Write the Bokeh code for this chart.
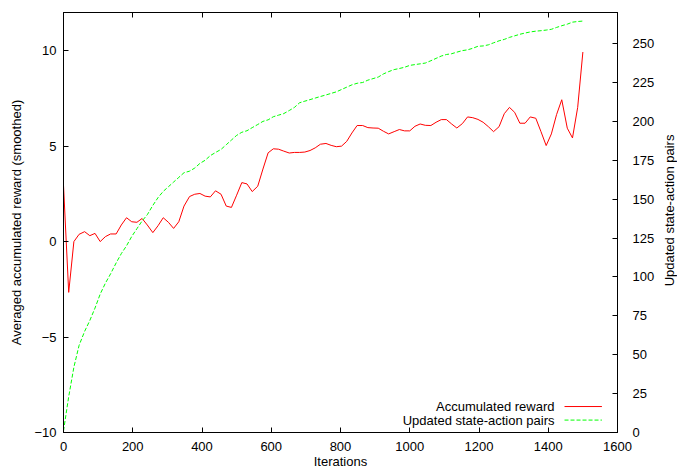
import math
from bokeh.plotting import figure
from bokeh.layouts import row
from bokeh.models import Range1d, LinearAxis, FixedTicker, Label, Arrow
from bokeh.embed import file_html
from bokeh.resources import INLINE

# ---------------- data ----------------
iterations = [
    0, 15, 30, 45, 61, 76, 91, 106, 121, 136,
    152, 167, 182, 197, 212, 227, 242, 258, 273, 288,
    303, 318, 333, 348, 364, 379, 394, 409, 424, 439,
    455, 470, 485, 500, 515, 530, 545, 561, 576, 591,
    606, 621, 636, 652, 667, 682, 697, 712, 727, 742,
    758, 773, 788, 803, 818, 833, 848, 864, 879, 894,
    909, 924, 939, 955, 970, 985, 1000, 1015, 1030, 1045,
    1061, 1076, 1091, 1106, 1121, 1136, 1152, 1167, 1182, 1197,
    1212, 1227, 1242, 1258, 1273, 1288, 1303, 1318, 1333, 1348,
    1364, 1379, 1394, 1409, 1424, 1439, 1455, 1470, 1485, 1500,
]

accumulated_reward = [
    2.95, -2.66, 0.00, 0.38, 0.52, 0.31, 0.43, 0.00, 0.26, 0.40,
    0.40, 0.87, 1.25, 1.04, 1.01, 1.21, 0.87, 0.47, 0.83, 1.25,
    1.01, 0.69, 1.04, 1.86, 2.36, 2.48, 2.52, 2.38, 2.34, 2.66,
    2.48, 1.86, 1.79, 2.43, 3.09, 3.02, 2.62, 2.90, 3.80, 4.65,
    4.86, 4.84, 4.74, 4.64, 4.67, 4.67, 4.69, 4.77, 4.91, 5.10,
    5.14, 5.04, 4.97, 5.00, 5.25, 5.69, 6.08, 6.08, 5.97, 5.95,
    5.94, 5.78, 5.64, 5.76, 5.87, 5.80, 5.80, 6.04, 6.16, 6.09,
    6.08, 6.25, 6.39, 6.39, 6.16, 5.95, 6.18, 6.53, 6.49, 6.40,
    6.25, 6.02, 5.76, 6.02, 6.70, 7.03, 6.77, 6.20, 6.20, 6.53,
    6.46, 5.76, 5.03, 5.64, 6.65, 7.43, 5.94, 5.43, 7.03, 9.93,
]

updated_pairs = [
    1, 23, 42, 56, 65, 72, 80, 89, 96, 102,
    109, 115, 120, 126, 131, 136, 140, 146, 151, 155,
    158, 161, 164, 167, 168, 170, 173, 175, 178, 180,
    182, 185, 188, 191, 193, 194, 196, 198, 200, 201,
    203, 204, 205, 207, 209, 212, 213, 214, 215, 216,
    217, 218, 219, 220.5, 222, 223.5, 224.5, 225, 226.5, 227.5,
    228.5, 230.5, 232, 233.3, 234, 234.8, 236, 236.5, 237, 237.5,
    239, 240.5, 242, 243, 243.5, 244.5, 245.5, 246, 247, 248.3,
    248.5, 249.2, 250.5, 251.8, 252.7, 254, 255, 256, 256.8, 257.5,
    258, 258.3, 258.7, 259.2, 260.4, 261.5, 262.5, 263.8, 264.2, 264.5,
]

x_ticks = [0, 200, 400, 600, 800, 1000, 1200, 1400, 1600]
y_ticks = [-10, -5, 0, 5, 10]
y2_ticks = [0, 25, 50, 75, 100, 125, 150, 175, 200, 225, 250]

series_names = ["Accumulated reward", "Updated state-action pairs"]
x_title = "Iterations"
y_title = "Averaged accumulated reward (smoothed)"
y2_title = "Updated state-action pairs"

# ---------------- style ----------------
FONT = "Liberation Sans"
FS = "13px"
RED = "#ff0000"
GREEN = "#00ff00"

p = figure(
    width=663, height=471,
    output_backend="svg", toolbar_location=None,
    x_range=Range1d(0, 1600), y_range=Range1d(-10, 12),
    min_border_left=63, min_border_right=46,
    min_border_top=12, min_border_bottom=39,
    background_fill_color="white", border_fill_color="white",
)
p.extra_y_ranges = {"y2": Range1d(0, 270)}
p.grid.grid_line_color = None
p.outline_line_color = "black"
p.outline_line_width = 1


def style_axis(ax, standoff):
    ax.axis_line_color = "black"
    ax.axis_line_width = 1
    ax.major_tick_line_color = "black"
    ax.major_tick_in = 5
    ax.major_tick_out = 0
    ax.minor_tick_line_color = None
    ax.major_label_text_font = FONT
    ax.major_label_text_font_size = FS
    ax.major_label_text_color = "black"
    ax.major_label_standoff = standoff


def style_title(ax, text, standoff):
    ax.axis_label = text
    ax.axis_label_text_font = FONT
    ax.axis_label_text_font_size = FS
    ax.axis_label_text_font_style = "normal"
    ax.axis_label_text_color = "black"
    ax.axis_label_standoff = standoff


xa = p.xaxis[0]
xa.ticker = FixedTicker(ticks=x_ticks)
style_axis(xa, 9)
style_title(xa, x_title, 0)

ya = p.yaxis[0]
ya.ticker = FixedTicker(ticks=y_ticks)
style_axis(ya, 7)
style_title(ya, y_title, 7)

top = LinearAxis(ticker=FixedTicker(ticks=x_ticks))
style_axis(top, 0)
top.major_label_text_font_size = "0px"
top.major_label_text_color = None
p.add_layout(top, "above")

ra = LinearAxis(y_range_name="y2", ticker=FixedTicker(ticks=y2_ticks))
style_axis(ra, 15)
p.add_layout(ra, "right")

# ---------------- data lines ----------------
p.line(iterations, accumulated_reward, line_color=RED, line_width=1)
p.line(iterations, updated_pairs, y_range_name="y2",
       line_color=GREEN, line_width=1, line_dash="4 2")

# ---------------- gnuplot-style legend (label left, sample right) -------
LEG_TEXT_X = 1418
LEG_X0, LEG_X1 = 1447, 1555
LEG_ROWS = [-8.64, -9.35]
leg_styles = [dict(line_color=RED), dict(line_color=GREEN, line_dash="4 2")]
for name, yy, st in zip(series_names, LEG_ROWS, leg_styles):
    p.add_layout(Label(x=LEG_TEXT_X, y=yy, text=name, text_align="right",
                       text_baseline="middle", text_font=FONT,
                       text_font_size=FS, text_color="black"))
    p.add_layout(Arrow(start=None, end=None, x_start=LEG_X0, y_start=yy,
                       x_end=LEG_X1, y_end=yy, line_width=1, **st))

# ---------------- right-hand axis title (reads bottom-to-top) ----------
t = figure(
    width=14, height=471, output_backend="svg", toolbar_location=None,
    x_range=Range1d(0, 14), y_range=Range1d(0, 471),
    x_axis_type=None, y_axis_type=None,
    min_border_left=0, min_border_right=0, min_border_top=0, min_border_bottom=0,
    background_fill_color="white", border_fill_color="white",
)
t.outline_line_color = None
t.grid.grid_line_color = None
t.add_layout(Label(x=6, y=249, text=y2_title, angle=math.pi / 2,
                   text_align="center", text_baseline="middle",
                   text_font=FONT, text_font_size=FS, text_color="black"))

layout = row(p, t)
open("out.html", "w").write(file_html(layout, INLINE))
